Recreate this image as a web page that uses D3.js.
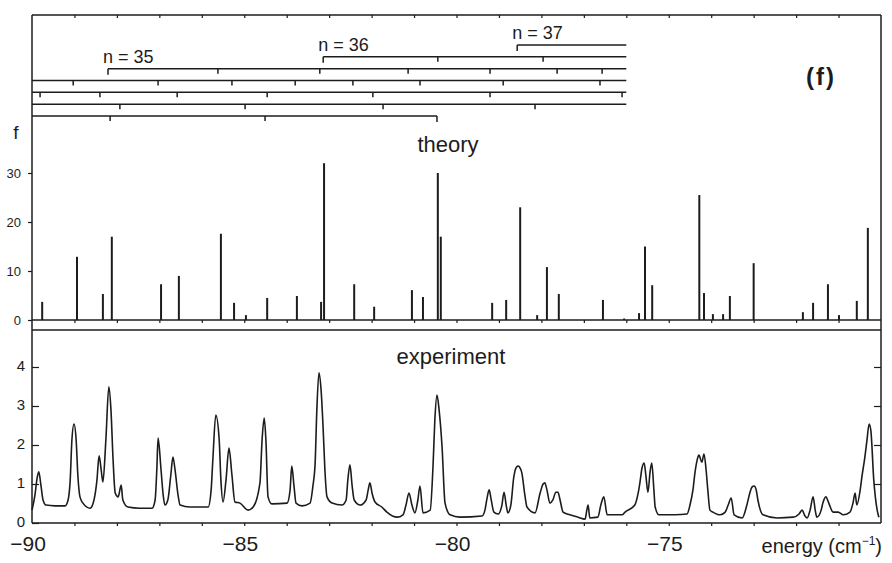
<!DOCTYPE html>
<html><head><meta charset="utf-8">
<script src="https://cdn.jsdelivr.net/npm/d3@7"></script>
<style>
body{margin:0;background:#fff}
svg{display:block}
text{font-family:"Liberation Sans",Arial,Helvetica,sans-serif;fill:#1c1c1c}
</style>
</head><body>
<svg id="c" width="892" height="563"></svg>
<script>
// ---------- data ----------
const xTickLabels = [-90, -85, -80, -75];
const theoryTicks = [0, 10, 20, 30];
const expTicks = [0, 1, 2, 3, 4];

// theory: line positions (cm^-1) and oscillator strengths f
const theoryE = [-89.76,-88.94,-88.33,-88.12,-86.96,-86.54,-85.55,-85.24,-84.96,-84.46,
  -83.76,-83.19,-83.12,-82.41,-81.94,-81.05,-80.79,-80.44,-80.37,-79.16,
  -78.83,-78.50,-78.10,-77.87,-77.59,-76.55,-76.05,-75.70,-75.56,-75.39,
  -74.28,-74.17,-73.96,-73.72,-73.56,-73.00,-71.84,-71.60,-71.25,-70.99,
  -70.57,-70.31];
const theoryF = [3.7,12.9,5.3,17.0,7.3,9.0,17.6,3.5,1.0,4.5,
  4.9,3.7,32.0,7.3,2.7,6.1,4.7,30.0,17.0,3.5,
  4.1,23.0,1.0,10.8,5.3,4.1,0.3,1.4,15.0,7.1,
  25.5,5.5,1.2,1.2,4.9,11.6,1.6,3.5,7.3,1.0,
  3.9,18.8];

// experiment: traced spectrum (energy, signal)
const expE = [-90.00,-89.93,-89.88,-89.84,-89.79,-89.74,-89.67,-89.46,-89.22,-89.15,
  -89.10,-89.06,-89.01,-88.96,-88.92,-88.87,-88.80,-88.63,-88.54,-88.47,
  -88.42,-88.37,-88.33,-88.26,-88.19,-88.14,-88.09,-88.04,-87.97,-87.90,
  -87.86,-87.74,-87.46,-87.17,-87.10,-87.06,-87.03,-86.96,-86.91,-86.87,
  -86.80,-86.73,-86.68,-86.63,-86.56,-86.51,-86.28,-85.85,-85.78,-85.74,
  -85.67,-85.59,-85.55,-85.50,-85.43,-85.36,-85.29,-85.22,-85.10,-84.91,
  -84.79,-84.63,-84.58,-84.53,-84.49,-84.44,-84.35,-83.99,-83.92,-83.88,
  -83.83,-83.78,-83.64,-83.45,-83.38,-83.33,-83.29,-83.24,-83.19,-83.14,
  -83.10,-83.05,-82.93,-82.70,-82.60,-82.56,-82.51,-82.46,-82.41,-82.27,
  -82.13,-82.08,-82.04,-81.99,-81.92,-81.76,-81.64,-81.40,-81.26,-81.19,
  -81.12,-81.05,-80.98,-80.91,-80.86,-80.79,-80.62,-80.55,-80.51,-80.46,
  -80.41,-80.34,-80.27,-80.15,-79.92,-79.40,-79.33,-79.28,-79.23,-79.19,
  -79.12,-79.02,-78.93,-78.88,-78.83,-78.79,-78.72,-78.65,-78.60,-78.55,
  -78.50,-78.46,-78.39,-78.34,-78.15,-78.03,-77.96,-77.92,-77.87,-77.80,
  -77.73,-77.66,-77.61,-77.56,-77.49,-77.33,-77.14,-76.97,-76.93,-76.90,
  -76.86,-76.67,-76.60,-76.53,-76.45,-76.10,-76.03,-75.80,-75.72,-75.68,
  -75.63,-75.58,-75.54,-75.49,-75.44,-75.40,-75.35,-75.32,-75.23,-74.85,
  -74.57,-74.50,-74.43,-74.38,-74.33,-74.29,-74.22,-74.17,-74.12,-74.08,
  -74.03,-73.96,-73.79,-73.67,-73.60,-73.53,-73.46,-73.27,-73.16,-73.09,
  -73.04,-72.99,-72.94,-72.90,-72.78,-72.45,-72.07,-71.93,-71.86,-71.79,
  -71.74,-71.67,-71.60,-71.55,-71.51,-71.41,-71.37,-71.30,-71.23,-71.13,
  -71.01,-70.89,-70.73,-70.66,-70.61,-70.57,-70.49,-70.45,-70.38,-70.33,
  -70.28,-70.24,-70.17,-70.09,-70.05];
const expV = [0.33,0.72,1.15,1.31,0.97,0.59,0.46,0.44,0.44,0.59,
  1.10,2.13,2.54,2.13,1.23,0.67,0.51,0.38,0.59,1.10,
  1.72,1.36,1.05,2.13,3.49,2.90,1.62,0.77,0.67,0.97,
  0.59,0.41,0.38,0.38,0.59,1.36,2.18,1.36,0.72,0.46,
  0.59,1.23,1.69,1.36,0.72,0.46,0.41,0.41,0.85,1.62,
  2.77,2.13,1.10,0.54,1.10,1.92,1.23,0.54,0.51,0.33,
  0.41,1.03,2.13,2.69,2.13,0.67,0.49,0.51,0.85,1.46,
  0.97,0.51,0.44,0.51,0.97,1.54,2.90,3.85,3.41,2.38,
  1.36,0.67,0.51,0.46,0.59,1.10,1.49,0.97,0.59,0.46,
  0.59,0.85,1.03,0.77,0.54,0.41,0.28,0.15,0.21,0.46,
  0.77,0.46,0.26,0.59,0.95,0.26,0.33,1.54,2.64,3.28,
  2.90,1.95,0.51,0.21,0.15,0.18,0.33,0.64,0.85,0.64,
  0.28,0.23,0.46,0.79,0.46,0.26,0.46,1.18,1.41,1.46,
  1.41,1.28,0.72,0.41,0.26,0.77,1.00,1.03,0.85,0.51,
  0.59,0.79,0.79,0.59,0.28,0.21,0.15,0.10,0.33,0.46,
  0.13,0.15,0.46,0.67,0.21,0.21,0.28,0.46,0.77,1.03,
  1.41,1.54,1.23,0.79,1.31,1.54,0.85,0.41,0.21,0.21,
  0.23,0.46,0.85,1.31,1.62,1.74,1.56,1.77,1.36,0.85,
  0.33,0.28,0.21,0.28,0.46,0.64,0.21,0.13,0.46,0.77,
  0.92,0.95,0.85,0.59,0.21,0.13,0.15,0.23,0.33,0.18,
  0.13,0.33,0.67,0.33,0.15,0.33,0.51,0.67,0.51,0.28,
  0.28,0.21,0.28,0.51,0.77,0.46,0.85,1.18,1.69,2.13,
  2.54,2.38,1.10,0.33,0.15];

// level ladder (Rydberg series), top row first
const ladderN = [37, 36, 35, null, null, null, null];
const ladderStart = [-78.57, -83.14, -88.21, -90, -90, -90, -90];
const ladderEnd = [-76, -76, -76, -76, -76, -76, -80.46];
const ladderTicks = [
  [],
  [-80.44, -77.96],
  [-85.62, -83.22, -81.14, -79.21, -77.63, -76.57],
  [-89.03, -87.03, -85.29, -83.80, -82.44, -80.86, -78.90, -76.62],
  [-89.81, -88.40, -86.58, -84.46, -81.97, -79.21, -76.10],
  [-87.93, -84.98, -81.73, -78.15],
  [-88.16, -84.51]
];

// ---------- layout ----------
const INK = "#1c1c1c";
const L = 32, R = 881, TOP = 15, BOTTOM = 523, DIV = 330;
const svg = d3.select("#c");

const x = d3.scaleLinear().domain([-90, -70]).range([L, R]);
const yT = d3.scaleLinear().domain([0, 30]).range([320, 173]);
const yE = d3.scaleLinear().domain([0, 4]).range([BOTTOM, 367]);
const rowY = d3.scalePoint().domain(d3.range(ladderN.length)).range([45, 116]);

const minor = d3.range(-89, -70);

function styleAxis(g){
  g.select(".domain").remove();
  g.selectAll("line").attr("stroke", INK).attr("stroke-width", 1.2);
}

// frame
const frame = svg.append("g").attr("stroke", INK).attr("stroke-width", 1.5).attr("fill", "none");
frame.append("line").attr("x1", L).attr("x2", L).attr("y1", TOP).attr("y2", BOTTOM);
frame.append("line").attr("x1", R).attr("x2", R).attr("y1", TOP).attr("y2", BOTTOM);
frame.append("line").attr("x1", L).attr("x2", R).attr("y1", TOP).attr("y2", TOP);
frame.append("line").attr("x1", L).attr("x2", R).attr("y1", BOTTOM).attr("y2", BOTTOM);
frame.append("line").attr("x1", L).attr("x2", R).attr("y1", DIV).attr("y2", DIV);
frame.append("line").attr("x1", L).attr("x2", R).attr("y1", yT(0)).attr("y2", yT(0));

// minor x ticks on top frame, theory baseline, bottom axis
svg.append("g").attr("transform", `translate(0,${TOP})`)
  .call(d3.axisBottom(x).tickValues(minor).tickSize(3).tickSizeOuter(0).tickFormat(""))
  .call(styleAxis);
svg.append("g").attr("transform", `translate(0,${yT(0)})`)
  .call(d3.axisBottom(x).tickValues(minor).tickSize(3).tickSizeOuter(0).tickFormat(""))
  .call(styleAxis);
svg.append("g").attr("transform", `translate(0,${BOTTOM})`)
  .call(d3.axisBottom(x).tickValues(minor).tickSize(3).tickSizeOuter(0).tickFormat(""))
  .call(styleAxis);

// x tick labels
svg.append("g").selectAll("text").data(xTickLabels).join("text")
  .attr("x", d => x(d) - 4).attr("y", 551)
  .attr("text-anchor", "middle").attr("font-size", 21)
  .text(d => "\u2212" + Math.abs(d));

// x axis title
const xt = svg.append("text").attr("x", 882).attr("y", 553)
  .attr("text-anchor", "end").attr("font-size", 20);
xt.append("tspan").text("energy (cm");
xt.append("tspan").attr("font-size", 12).attr("dy", -8).text("\u22121");
xt.append("tspan").attr("dy", 8).text(")");

// theory y axis
svg.append("g").attr("transform", `translate(${L},0)`)
  .call(d3.axisLeft(yT).tickValues(theoryTicks).tickSize(4).tickPadding(7).tickSizeOuter(0).tickFormat(d3.format("d")))
  .call(styleAxis)
  .call(g => g.selectAll("text").attr("font-size", 13).attr("fill", INK)
    .attr("font-family", "'Liberation Sans',Arial,sans-serif"));

// experiment y axes
svg.append("g").attr("transform", `translate(${L},0)`)
  .call(d3.axisLeft(yE).tickValues(expTicks).tickSize(-7).tickPadding(7).tickSizeOuter(0).tickFormat(d3.format("d")))
  .call(styleAxis)
  .call(g => g.selectAll("text").attr("font-size", 15).attr("fill", INK).attr("dy", "0.2em")
    .attr("font-family", "'Liberation Sans',Arial,sans-serif"));
svg.append("g").attr("transform", `translate(${R},0)`)
  .call(d3.axisRight(yE).tickValues(expTicks.slice(1)).tickSize(-7).tickSizeOuter(0).tickFormat(""))
  .call(styleAxis);

// labels
svg.append("text").attr("x", 16).attr("y", 139).attr("text-anchor", "middle")
  .attr("font-size", 19).text("f");
svg.append("text").attr("x", 448).attr("y", 152).attr("text-anchor", "middle")
  .attr("font-size", 22).text("theory");
svg.append("text").attr("x", 451).attr("y", 364).attr("text-anchor", "middle")
  .attr("font-size", 22).text("experiment");
svg.append("text").attr("x", 821).attr("y", 85).attr("text-anchor", "middle")
  .attr("font-size", 24).attr("font-weight", "bold").attr("letter-spacing", 2).text("(f)");

// theory sticks
svg.append("g").selectAll("line").data(theoryE).join("line")
  .attr("x1", d => x(d)).attr("x2", d => x(d))
  .attr("y1", yT(0)).attr("y2", (d, i) => yT(theoryF[i]))
  .attr("stroke", INK).attr("stroke-width", 2);

// experiment curve
const pts = expE.map((e, i) => [e, expV[i]]);
svg.append("path").datum(pts)
  .attr("fill", "none").attr("stroke", INK).attr("stroke-width", 1.6)
  .attr("stroke-linejoin", "round")
  .attr("d", d3.line().x(d => x(d[0])).y(d => yE(d[1])).curve(d3.curveMonotoneX));

// ladder
const lad = svg.append("g").attr("stroke", INK).attr("stroke-width", 1.5).attr("fill", "none");
ladderN.forEach((n, i) => {
  const y = rowY(i);
  lad.append("line").attr("x1", x(ladderStart[i])).attr("x2", x(ladderEnd[i])).attr("y1", y).attr("y2", y);
  if (ladderStart[i] > -90)
    lad.append("line").attr("x1", x(ladderStart[i])).attr("x2", x(ladderStart[i])).attr("y1", y).attr("y2", y + 6);
  if (ladderEnd[i] < -76)
    lad.append("line").attr("x1", x(ladderEnd[i])).attr("x2", x(ladderEnd[i])).attr("y1", y).attr("y2", y + 6);
  lad.selectAll(null).data(ladderTicks[i]).join("line")
    .attr("x1", d => x(d)).attr("x2", d => x(d)).attr("y1", y).attr("y2", y + 5);
  if (n !== null)
    svg.append("text").attr("x", x(ladderStart[i]) - 5).attr("y", y - 6)
      .attr("font-size", 18).text("n = " + n);
});
</script>
</body></html>
